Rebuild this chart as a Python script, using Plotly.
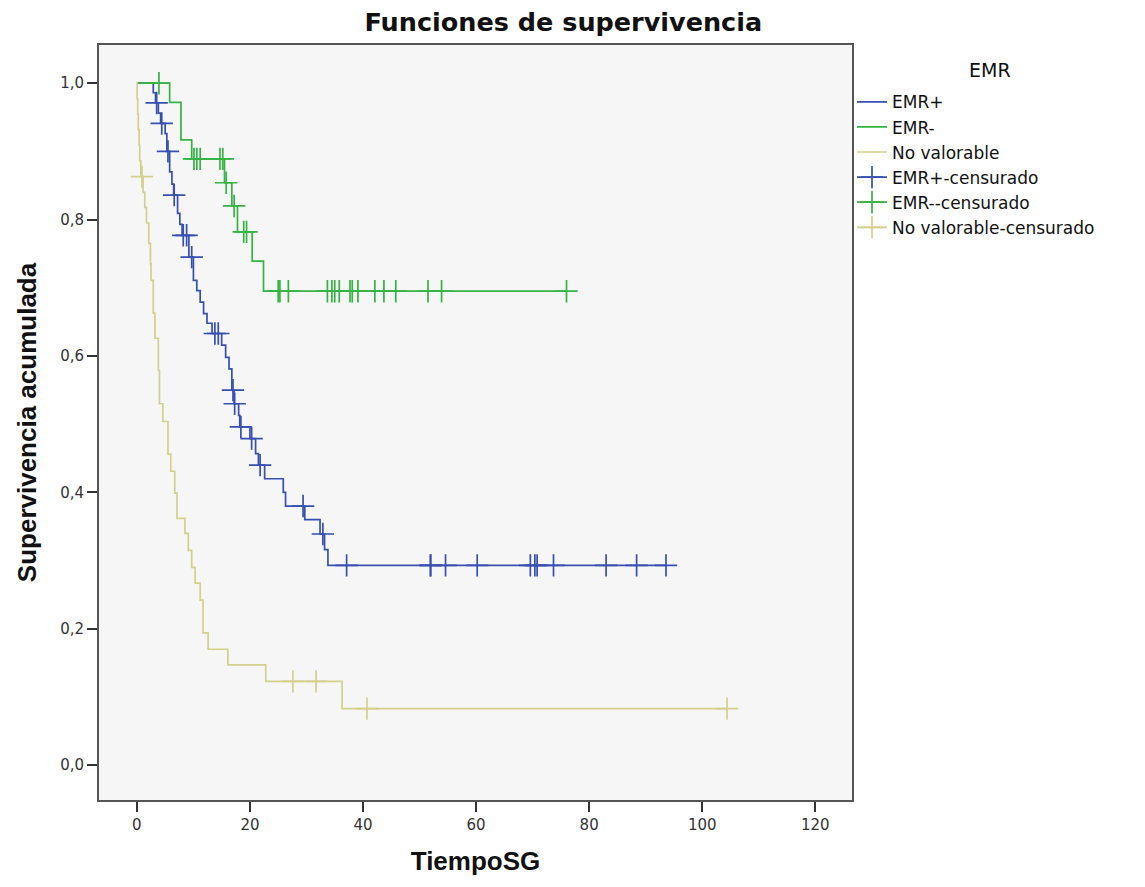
import plotly.graph_objects as go

# ---------------- data ----------------
groups = ["EMR+", "EMR-", "No valorable"]

# EMR+ : event times and survival after each event
emr_pos_t = [2.9, 3.3, 3.8, 4.2, 5.0, 5.3, 5.8, 6.2, 6.5, 7.2, 7.6, 8.0, 9.2, 10.0, 10.6,
             11.2, 11.8, 12.4, 13.3, 15.0, 15.7, 16.3, 16.8, 17.2, 18.0, 18.2, 20.0, 21.0,
             21.5, 22.6, 25.9, 26.3, 29.7, 32.4, 33.2, 33.8]
emr_pos_s = [0.986, 0.971, 0.956, 0.941, 0.926, 0.900, 0.870, 0.852, 0.836, 0.809, 0.793,
             0.777, 0.745, 0.711, 0.696, 0.679, 0.662, 0.648, 0.633, 0.616, 0.598, 0.581,
             0.550, 0.530, 0.513, 0.496, 0.479, 0.457, 0.440, 0.420, 0.400, 0.380, 0.360,
             0.339, 0.316, 0.293]
emr_pos_cens = [3.5, 4.4, 5.5, 6.6, 8.2, 8.8, 9.7, 13.8, 14.4, 17.0, 17.3, 18.4, 20.3, 21.8,
                29.4, 32.9, 37.1, 51.9, 52.0, 54.6, 60.2, 69.6, 70.4, 70.8, 73.7, 83.0,
                88.4, 93.6]

# EMR-
emr_neg_t = [5.8, 7.8, 9.7, 15.5, 16.8, 17.8, 20.4, 22.4]
emr_neg_s = [0.972, 0.917, 0.889, 0.854, 0.820, 0.782, 0.739, 0.695]
emr_neg_cens = [3.9, 10.1, 10.6, 11.2, 14.7, 15.2, 15.8, 17.2, 18.9, 19.4, 25.0, 25.3, 26.8,
                33.7, 34.5, 35.0, 35.8, 37.7, 38.1, 39.1, 42.1, 43.7, 45.8, 51.5, 53.9, 76.0]

# No valorable
nv_t = [0.05, 0.15, 0.25, 0.4, 0.5, 0.7, 1.1, 1.4, 1.7, 2.1, 2.4, 2.5, 2.9, 3.2, 3.8, 4.0,
        4.6, 5.5, 6.0, 6.7, 7.1, 8.5, 9.1, 9.7, 10.3, 11.2, 11.7, 12.6, 16.1, 22.8, 36.3]
nv_s = [0.977, 0.955, 0.932, 0.909, 0.886, 0.863, 0.840, 0.818, 0.795, 0.765, 0.735, 0.711,
        0.663, 0.626, 0.579, 0.530, 0.504, 0.456, 0.431, 0.399, 0.362, 0.340, 0.315, 0.290,
        0.267, 0.242, 0.194, 0.170, 0.147, 0.123, 0.083]
nv_cens = [0.9, 27.6, 31.7, 40.7, 104.4]

colors = {"EMR+": "#3650b2", "EMR-": "#35b444", "No valorable": "#d4cf8c"}

x_ticks = [0, 20, 40, 60, 80, 100, 120]
y_ticks = [0.0, 0.2, 0.4, 0.6, 0.8, 1.0]


def surv_at(times, surv, t):
    s = 1.0
    for ti, si in zip(times, surv):
        if ti <= t:
            s = si
    return s


series = {
    "EMR+": (emr_pos_t, emr_pos_s, emr_pos_cens),
    "EMR-": (emr_neg_t, emr_neg_s, emr_neg_cens),
    "No valorable": (nv_t, nv_s, nv_cens),
}

fig = go.Figure()

# step curves
for name in groups:
    t, s, c = series[name]
    end = max(max(c), t[-1])
    xs = [0] + t + [end]
    ys = [1.0] + s + [s[-1]]
    fig.add_trace(go.Scatter(x=xs, y=ys, mode="lines", line_shape="hv",
                             line=dict(color=colors[name], width=1.7),
                             name=name))

# censor markers
for name in groups:
    t, s, c = series[name]
    cy = [surv_at(t, s, ci) for ci in c]
    fig.add_trace(go.Scatter(x=c, y=cy, mode="markers", showlegend=False,
                             marker=dict(symbol="cross-thin", size=16,
                                         line=dict(color=colors[name], width=1.7)),
                             hoverinfo="x+y"))

# legend entries for censored series
for name in groups:
    fig.add_trace(go.Scatter(x=[None], y=[None], mode="lines+markers",
                             name=name + "-censurado",
                             line=dict(color=colors[name], width=1.7),
                             marker=dict(symbol="cross-thin", size=16,
                                         line=dict(color=colors[name], width=1.7))))

axis_common = dict(showgrid=False, zeroline=False, showline=True, mirror=True,
                   linecolor="#555555", linewidth=2, ticks="outside", ticklen=10,
                   tickwidth=1.5, tickcolor="#333333",
                   tickfont=dict(family="DejaVu Sans", size=15, color="#333333"))

fig.update_layout(
    width=1145, height=887,
    margin=dict(l=99, r=293, t=45, b=87),
    paper_bgcolor="white",
    plot_bgcolor="#f6f6f6",
    separators=",.",
    title=dict(text="<b>Funciones de supervivencia</b>", x=0.492, xref="container",
               xanchor="center", y=0.975, yref="container", yanchor="middle",
               font=dict(family="DejaVu Sans", size=25.5, color="#111111")),
    xaxis=dict(range=[-6.7, 126.5], tickvals=x_ticks,
               title=dict(text="<b>TiempoSG</b>", standoff=19,
                          font=dict(family="Liberation Sans Narrow, Liberation Sans", size=26,
                                    color="#111111")),
               **axis_common),
    yaxis=dict(range=[-0.051, 1.056], tickvals=y_ticks, tickformat=".1f",
               title=dict(text="<b>Supervivencia acumulada</b>", standoff=16,
                          font=dict(family="Liberation Sans Narrow, Liberation Sans", size=26,
                                    color="#111111")),
               **axis_common),
    legend=dict(x=1.0, xanchor="left", y=0.948, yanchor="top",
                bgcolor="rgba(0,0,0,0)", tracegroupgap=0, itemwidth=30,
                font=dict(family="DejaVu Sans", size=17, color="#111111")),
    showlegend=True,
)

fig.add_annotation(text="EMR", xref="paper", yref="paper",
                   x=(990 - 99) / (852 - 99), y=(800 - 70) / (800 - 45),
                   xanchor="center", yanchor="middle", showarrow=False,
                   font=dict(family="DejaVu Sans", size=19, color="#111111"))

fig.write_html("out.html")
